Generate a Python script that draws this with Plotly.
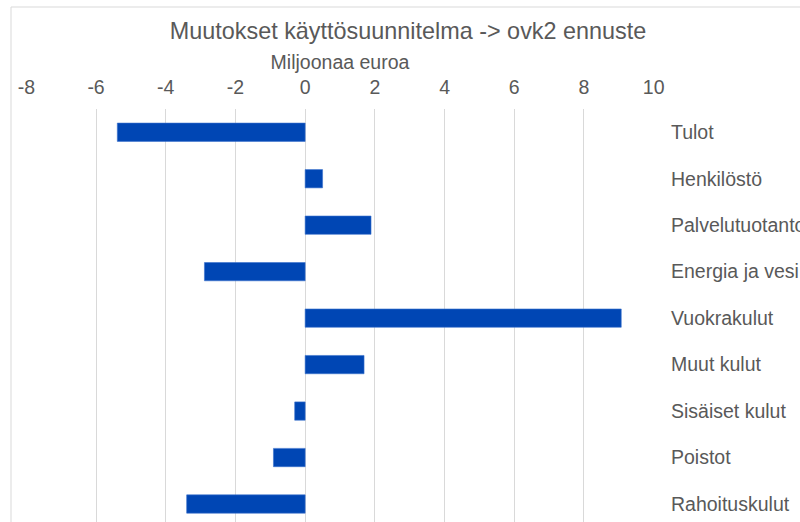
import plotly.graph_objects as go

categories = ["Tulot", "Henkilöstö", "Palvelutuotanto", "Energia ja vesi", "Vuokrakulut",
              "Muut kulut", "Sisäiset kulut", "Poistot", "Rahoituskulut"]
values = [-5.39, 0.50, 1.89, -2.89, 9.07, 1.69, -0.30, -0.91, -3.40]
x_ticks = [-8, -6, -4, -2, 0, 2, 4, 6, 8, 10]

title_text = "Muutokset käyttösuunnitelma -> ovk2 ennuste"
axis_title = "Miljoonaa euroa"

GREY = "#595959"
FONT = "Liberation Sans, Arial, sans-serif"

fig = go.Figure(go.Bar(
    x=values, y=categories, orientation="h",
    marker=dict(color="#0046B4", line=dict(color="#3a72cc", width=0.6)),
    hoverinfo="x+y",
))

fig.update_layout(
    width=800, height=522,
    margin=dict(l=26, r=146, t=109, b=0, autoexpand=False),
    paper_bgcolor="white", plot_bgcolor="white",
    bargap=0.606,
    showlegend=False,
    font=dict(family=FONT, color=GREY, size=19.5),
    title=dict(text=title_text, x=408/800, xanchor="center", xref="container",
               y=1 - 31/522, yanchor="middle", yref="container",
               font=dict(family=FONT, size=23.4, color=GREY)),
    xaxis=dict(side="top", range=[-8.01, 10.01], tickvals=x_ticks,
               ticktext=[str(v) for v in x_ticks],
               showgrid=True, gridcolor="#d9d9d9", gridwidth=1,
               zeroline=False, showline=False, ticks="",
               ticklabelstandoff=10,
               tickfont=dict(size=19.5, color=GREY, family=FONT),
               title=dict(text=axis_title, standoff=1,
                          font=dict(size=19.5, color=GREY, family=FONT))),
    yaxis=dict(side="right", type="category", categoryorder="array",
               categoryarray=categories, range=[8.387, -0.5],
               showgrid=False, zeroline=False, showline=False, ticks="",
               ticklabelstandoff=16,
               tickfont=dict(size=19.5, color=GREY, family=FONT)),
    shapes=[dict(type="rect", xref="paper", yref="paper",
                 x0=(11 - 26) / 628, x1=1.4,
                 y0=-0.2, y1=1 + (109 - 7) / 413,
                 line=dict(color="#d9d9d9", width=1), fillcolor="rgba(0,0,0,0)",
                 layer="below")],
)

fig.write_html("out.html", config={"displayModeBar": False},
               post_script="document.body.style.margin='0';document.body.style.overflow='hidden';")
